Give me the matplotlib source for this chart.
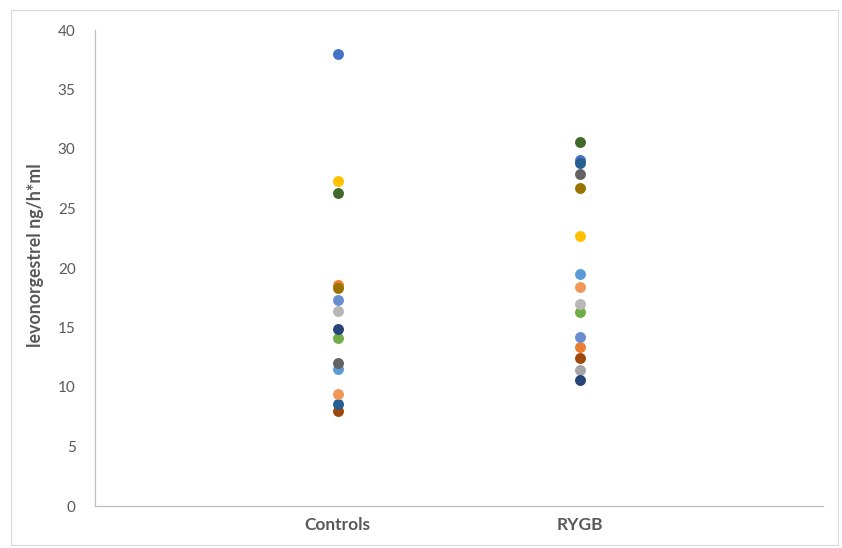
import matplotlib.pyplot as plt
import numpy as np
from matplotlib.patches import Rectangle

# categories on the x axis
groups = ['Controls', 'RYGB']

# one series per subject (Excel default colour order), values for Controls / RYGB
series_colors = ['#4472C4', '#ED7D31', '#A5A5A5', '#FFC000', '#5B9BD5',
                 '#70AD47', '#264478', '#9E480E', '#636363', '#997300',
                 '#255E91', '#43682B', '#698ED0', '#F1975A', '#B7B7B7']
controls = [38.0, 18.6, np.nan, 27.3, 11.5, 14.1, 14.9, 8.0, 12.0, 18.35,
            8.6, 26.3, 17.3, 9.45, 16.4]
rygb = [29.1, 13.4, 11.4, 22.7, 19.5, 16.3, 10.6, 12.4, 27.9, 26.7,
        28.8, 30.6, 14.2, 18.4, 16.95]

plt.rcParams['font.family'] = ['Lato', 'DejaVu Sans']
text_color = '#595959'

fig = plt.figure(figsize=(8.42, 5.48), dpi=100)
ax = fig.add_axes([95 / 842, 1 - 506 / 548, (823 - 95) / 842, (506 - 30) / 548])

# chart border
fig.patches.append(Rectangle((11 / 842, 1 - 545 / 548), 827 / 842, 535 / 548,
                             transform=fig.transFigure, fill=False,
                             edgecolor='#D9D9D9', linewidth=0.8))

xpos = np.arange(1, len(groups) + 1)
for i, c in enumerate(series_colors):
    ax.scatter(xpos, [controls[i], rygb[i]], s=62, color=c, zorder=3, linewidths=0)

ax.set_xlim(0, 3)
ax.set_ylim(0, 40)
ax.set_yticks(range(0, 41, 5))
ax.set_xticks(xpos)
ax.set_xticklabels(groups, fontsize=12.5, fontweight='bold', color=text_color)
ax.tick_params(axis='y', length=0, pad=14, labelsize=11, labelcolor=text_color)
ax.tick_params(axis='x', length=0, pad=8)
for s in ['top', 'right']:
    ax.spines[s].set_visible(False)
for s in ['left', 'bottom']:
    ax.spines[s].set_color('#BFBFBF')
    ax.spines[s].set_linewidth(0.9)

ax.set_ylabel('levonorgestrel ng/h*ml', fontsize=12.8, fontweight='bold',
              color=text_color)
ax.yaxis.set_label_coords(-0.07, 0.527)

plt.savefig('out.png', dpi=100)
